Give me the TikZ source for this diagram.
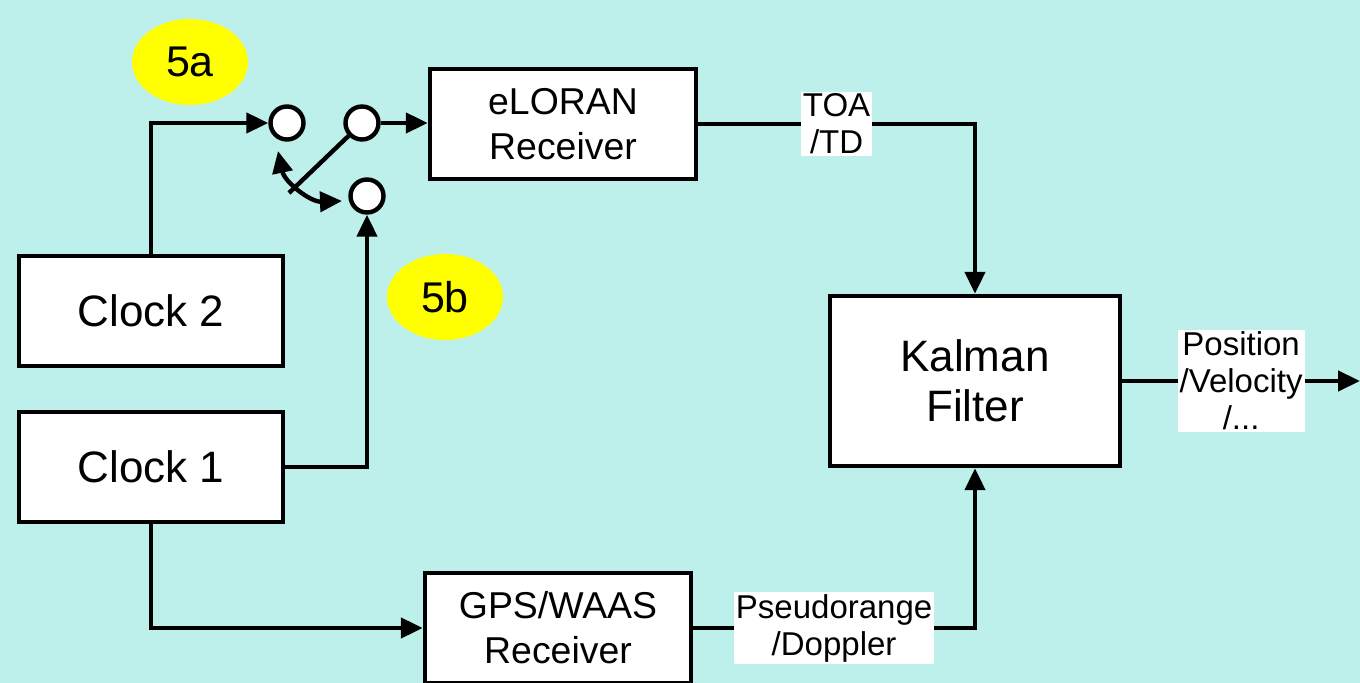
\documentclass[tikz,border=0pt]{standalone}
\usepackage{fontspec}
\setmainfont{Liberation Sans}
\usepackage{xcolor}
\usepackage{tikz}
\usetikzlibrary{arrows.meta,calc,shapes.geometric}
\definecolor{panelcyan}{HTML}{BDF0EA}
\definecolor{tagyellow}{HTML}{FFFF00}

\begin{document}
\begin{tikzpicture}[
    x=0.5pt, y=-0.5pt,
    block/.style={rectangle, draw=black, line width=2.2pt, fill=white, align=center, inner sep=2pt},
    bigtext/.style={font=\fontsize{22}{25}\selectfont},
    rxtext/.style={font=\fontsize{18.7}{22.5}\selectfont},
    contact/.style={circle, draw=black, line width=2.2pt, fill=white, minimum size=16.5pt, inner sep=0pt},
    tag/.style={ellipse, fill=tagyellow, minimum width=58pt, minimum height=43pt, inner sep=0pt, font=\fontsize{21.5}{25}\selectfont},
    note/.style={fill=white, inner sep=1pt, align=center, font=\fontsize{16.5}{18.5}\selectfont},
    link/.style={line width=2.2pt, -{Triangle[length=11pt,width=10pt]}}
]
\fill[panelcyan] (0,0) rectangle (1360,683);
\useasboundingbox (0,0) rectangle (1360,683);

\node[tag] (tagA) at (190,62) {5a};
\node[tag] (tagB) at (445,297) {5b};

\node[block, bigtext, minimum width=132pt, minimum height=55pt] (clock2) at (151,311) {Clock 2};
\node[block, bigtext, minimum width=132pt, minimum height=55pt] (clock1) at (151,467) {Clock 1};
\node[block, rxtext, minimum width=133pt, minimum height=55pt] (eloran) at (563,124) {eLORAN\\Receiver};
\node[block, rxtext, minimum width=133pt, minimum height=55pt] (gps) at (558,628) {GPS/WAAS\\Receiver};
\node[block, bigtext, minimum width=145pt, minimum height=85pt] (kalman) at (975,381) {Kalman\\Filter};

\node[contact] (swin2) at (287,123) {};
\node[contact] (swout) at (362,123) {};
\node[contact] (swin1) at (367,196) {};
\coordinate (blade) at (289,193);
\coordinate (throwA) at (278,151);
\coordinate (throwB) at (342,201);
\coordinate (result) at (1360,381);

\draw[line width=2.2pt] (swout) -- (blade);
\draw[line width=2.2pt, {Triangle[length=11pt,width=10pt]}-{Triangle[length=11pt,width=10pt]}]
  (throwA) to[bend right=40] (throwB);

\draw[link] (clock2.north) |- (swin2);
\draw[link] (swout) -- (eloran.west |- swout);
\draw[link] (clock1.east) -| (swin1);
\draw[link] (clock1.south) |- (gps.west);
\draw[link] (eloran.east) -| node[note, pos=0.25] (toa) {TOA\\/TD} (kalman.north);
\draw[link] (gps.east) -| node[note, pos=0.25] (pseudo) {Pseudorange\\/Doppler} (kalman.south);
\draw[link] (kalman.east) -- node[note] (posvel) {Position\\/Velocity\\/...} (result);
\end{tikzpicture}
\end{document}
